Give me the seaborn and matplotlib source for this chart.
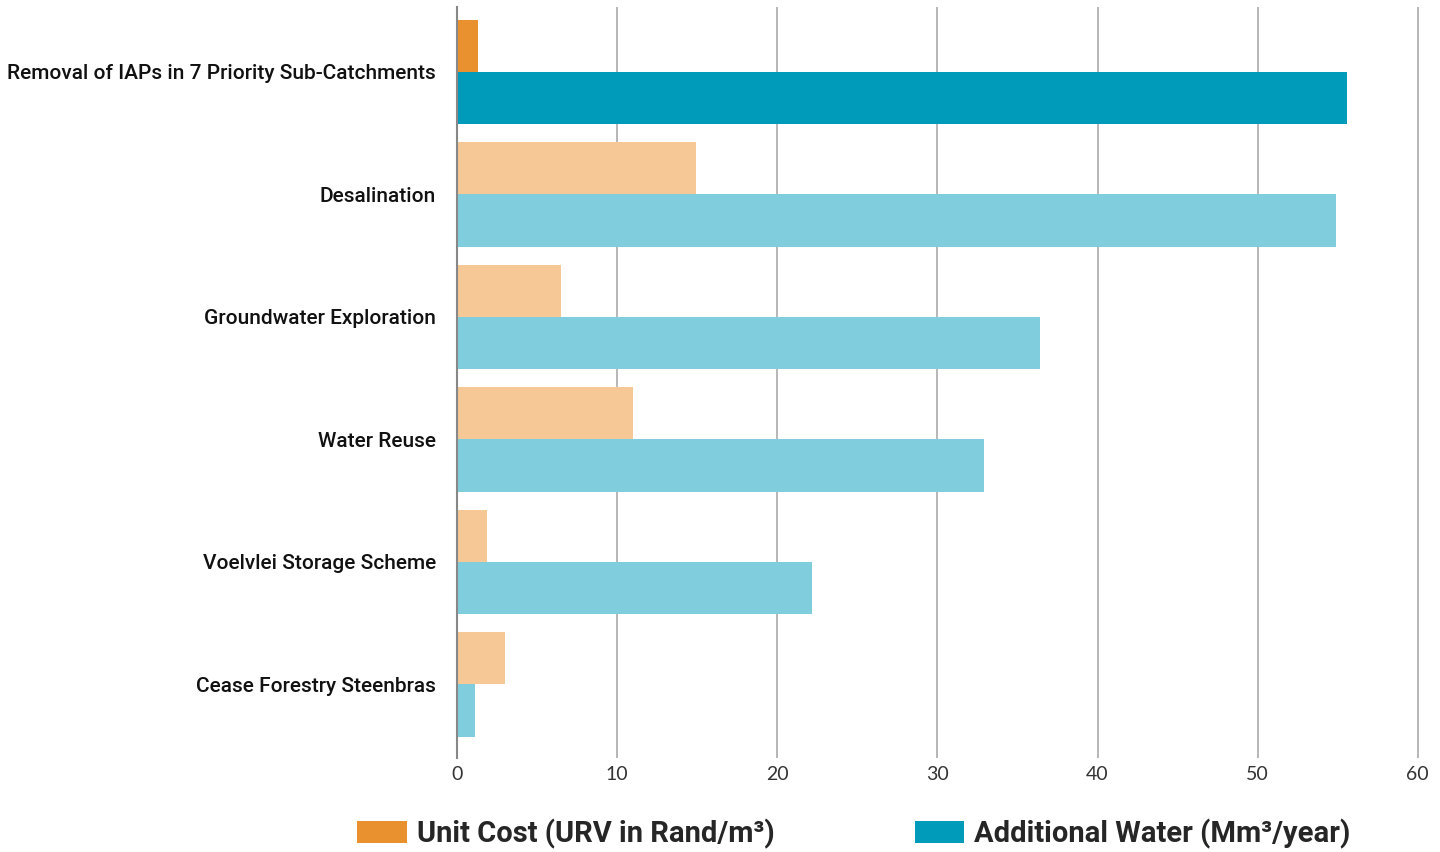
import matplotlib
matplotlib.use("Agg")
import matplotlib.pyplot as plt
import seaborn as sns
import pandas as pd
from matplotlib.patches import Patch

categories = [
    "Removal of IAPs in 7 Priority Sub-Catchments",
    "Desalination",
    "Groundwater Exploration",
    "Water Reuse",
    "Voelvlei Storage Scheme",
    "Cease Forestry Steenbras",
]
unit_cost = [1.3, 14.9, 6.5, 11.0, 1.9, 3.0]
additional_water = [55.6, 54.9, 36.4, 32.9, 22.2, 1.1]
series_names = ["Unit Cost (URV in Rand/m³)", "Additional Water (Mm³/year)"]
x_ticks = [0, 10, 20, 30, 40, 50, 60]

df = pd.DataFrame({
    "Option": categories * 2,
    "Series": [series_names[0]] * len(categories) + [series_names[1]] * len(categories),
    "Value": unit_cost + additional_water,
})

sns.set_theme(style="white")
plt.rcParams["font.family"] = ["Roboto", "DejaVu Sans"]

dark = {series_names[0]: "#E8912E", series_names[1]: "#009BBB"}
light = {series_names[0]: "#F5C896", series_names[1]: "#80CEDD"}

fig = plt.figure(figsize=(14.4, 8.52), dpi=100)
ax = fig.add_axes([457 / 1440, 1 - 758 / 852, (1421 - 457) / 1440, (758 - 7) / 852])

sns.barplot(data=df, y="Option", x="Value", hue="Series", order=categories,
            hue_order=series_names, orient="h", width=0.85, ax=ax,
            palette=dark, saturation=1, legend=False, edgecolor="none", linewidth=0)

# recolor: first category dark, others light
for s_i, cont in enumerate(ax.containers):
    s = series_names[s_i]
    for c_i, bar in enumerate(cont):
        bar.set_facecolor(dark[s] if c_i == 0 else light[s])

ax.set_xlim(0, 60.2)
ax.set_ylim(5.6, -0.53)
ax.set_xticks(x_ticks)
ax.set_xticklabels([str(t) for t in x_ticks], fontsize=14, color="#333333",
                   family=["Lato", "DejaVu Sans"])
ax.tick_params(axis="x", length=0, pad=6)
ax.set_yticks(range(len(categories)))
ax.set_yticklabels(categories, fontsize=15, color="#111111", fontweight="medium",
                   family=["Roboto", "DejaVu Sans"])
ax.tick_params(axis="y", length=0, pad=15)
ax.set_xlabel("")
ax.set_ylabel("")
for sp in ["top", "right", "bottom"]:
    ax.spines[sp].set_visible(False)
ax.spines["left"].set_color("#888888")
ax.spines["left"].set_linewidth(1.5)
ax.grid(axis="x", color="#AAAAAA", linewidth=1.2)
for gl in ax.get_xgridlines():
    gl.set_zorder(3)

handles = [Patch(facecolor=dark[s], edgecolor="none") for s in series_names]
fig.legend(handles, series_names, loc="center", bbox_to_anchor=(0.593, 1 - 834 / 852),
           ncol=2, frameon=False, handlelength=1.7, handleheight=0.8,
           columnspacing=4.8, handletextpad=0.35,
           prop={"family": ["Roboto", "DejaVu Sans"], "weight": "bold", "size": 21})

fig.savefig("out.png", dpi=100, facecolor="white")
